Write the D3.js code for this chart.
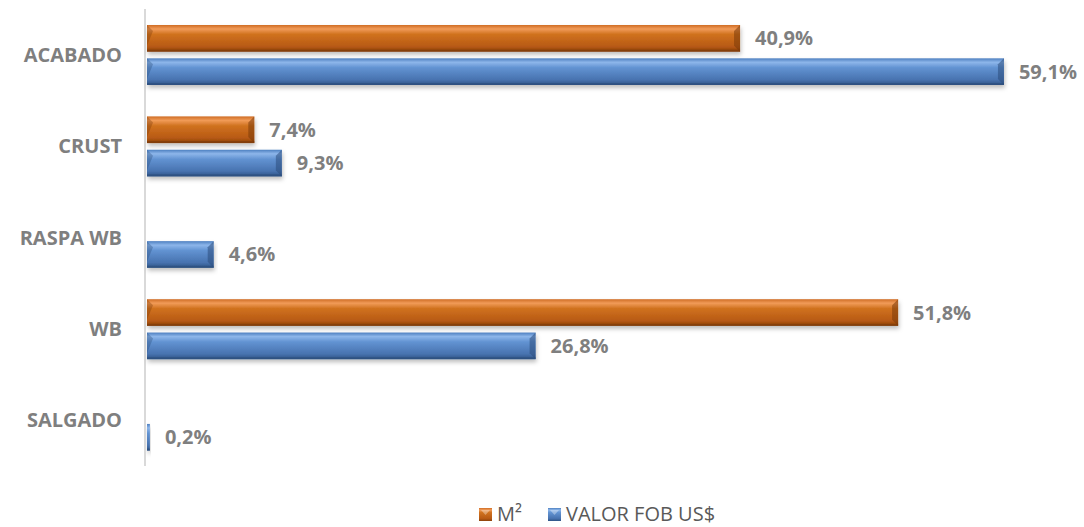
<!DOCTYPE html>
<html lang="pt">
<head>
<meta charset="UTF-8">
<title>Acabado / Crust / WB</title>
<script src="https://d3js.org/d3.v7.min.js"></script>
<style>
  body { margin: 0; background: #fff; }
  svg { display: block; }
  text { font-family: "Open Sans", sans-serif; }
</style>
</head>
<body>
<div id="chart"></div>
<script>
// data
const categories = ["ACABADO", "CRUST", "RASPA WB", "WB", "SALGADO"];
const seriesNames = ["M²", "VALOR FOB US$"];
const m2Values = [40.9, 7.4, null, 51.8, null];
const fobValues = [59.1, 9.3, 4.6, 26.8, 0.2];

const width = 1084, height = 527;
const left = 147;

const svg = d3.select("#chart").append("svg")
    .attr("width", width).attr("height", height);

const defs = svg.append("defs");

// bar looks: vertical gradient + bevel
const looks = [
  { id: "gOr", stops: ["#cf6d25", "#f19b58", "#d0721f", "#b85a14", "#8c420c"], end: "#7a3a0a" },
  { id: "gBl", stops: ["#4d7fc0", "#8db6ea", "#6293d2", "#4873b0", "#2f5485"], end: "#2b4c7c" }
];
looks.forEach(l => {
  const g = defs.append("linearGradient").attr("id", l.id)
      .attr("x1", 0).attr("y1", 0).attr("x2", 0).attr("y2", 1);
  [0, 0.15, 0.35, 0.8, 1].forEach((o, i) =>
    g.append("stop").attr("offset", o).attr("stop-color", l.stops[i]));
});
const sh = defs.append("filter").attr("id", "shadow")
    .attr("x", "-5%").attr("y", "-20%").attr("width", "110%").attr("height", "160%");
sh.append("feDropShadow").attr("dx", 1).attr("dy", 3).attr("stdDeviation", 2)
    .attr("flood-color", "#000").attr("flood-opacity", 0.25);

const x = d3.scaleLinear().domain([0, 60]).range([left, left + 870]);
const y0 = d3.scaleBand().domain(categories).range([9, 466]);
const y1 = d3.scaleBand().domain(seriesNames).range([16, 76]).paddingInner(0.2);

// vertical axis line
svg.append("line")
    .attr("x1", left - 2).attr("x2", left - 2)
    .attr("y1", y0.range()[0]).attr("y2", y0.range()[1])
    .attr("stroke", "#d9d9d9").attr("stroke-width", 2);

// category labels
svg.append("g").selectAll("text")
  .data(categories).join("text")
    .attr("x", 122)
    .attr("y", d => y0(d) + y0.bandwidth() / 2)
    .attr("dy", "0.35em")
    .attr("text-anchor", "end")
    .attr("font-size", 20).attr("font-weight", "bold")
    .attr("fill", "#7f7f7f")
    .text(d => d);

const rows = [];
categories.forEach((c, i) => {
  [m2Values[i], fobValues[i]].forEach((v, s) => {
    if (v != null) rows.push({ cat: c, s, v });
  });
});

const bars = svg.append("g").selectAll("g")
  .data(rows).join("g")
    .attr("transform", d => `translate(0,${y0(d.cat) + y1(seriesNames[d.s])})`);

const bh = y1.bandwidth();

bars.append("rect")
    .attr("x", x(0))
    .attr("width", d => x(d.v) - x(0))
    .attr("height", bh)
    .attr("fill", d => `url(#${looks[d.s].id})`)
    .attr("filter", "url(#shadow)");

// right-end bevel facet
bars.filter(d => x(d.v) - x(0) > 10).append("path")
    .attr("d", d => {
      const xe = x(d.v), b = 6;
      return `M${xe - b},${b} L${xe},0 L${xe},${bh} L${xe - b},${bh - b} Z`;
    })
    .attr("fill", d => looks[d.s].end).attr("opacity", 0.55);

// left-top bevel
bars.filter(d => x(d.v) - x(0) > 10).append("path")
    .attr("d", () => `M${x(0)},0 L${x(0) + 6},6 L${x(0)},${bh - 6} Z`)
    .attr("fill", d => looks[d.s].end).attr("opacity", 0.35);

// bottom dark edge
bars.append("rect")
    .attr("x", x(0)).attr("y", bh - 2)
    .attr("width", d => x(d.v) - x(0)).attr("height", 2)
    .attr("fill", d => looks[d.s].end).attr("opacity", 0.6);

// value labels
bars.append("text")
    .attr("x", d => x(d.v) + 15)
    .attr("y", bh / 2)
    .attr("dy", "0.35em")
    .attr("font-size", 20).attr("font-weight", "bold")
    .attr("fill", "#7f7f7f")
    .text(d => d3.format(".1f")(d.v).replace(".", ",") + "%");

// legend
const legendX = [479, 548];
const lg = svg.append("g").selectAll("g")
  .data(seriesNames).join("g")
    .attr("transform", (d, i) => `translate(${legendX[i]},508)`);
lg.append("rect")
    .attr("width", 13).attr("height", 13)
    .attr("fill", (d, i) => `url(#${looks[i].id})`);
lg.append("path")
    .attr("d", "M2,2 L11,2 L6.5,7 Z")
    .attr("fill", "#fff").attr("opacity", 0.35);
lg.append("text")
    .attr("x", 18).attr("y", 13)
    .attr("font-size", 20)
    .attr("fill", "#595959")
    .text(d => d);
</script>
</body>
</html>
